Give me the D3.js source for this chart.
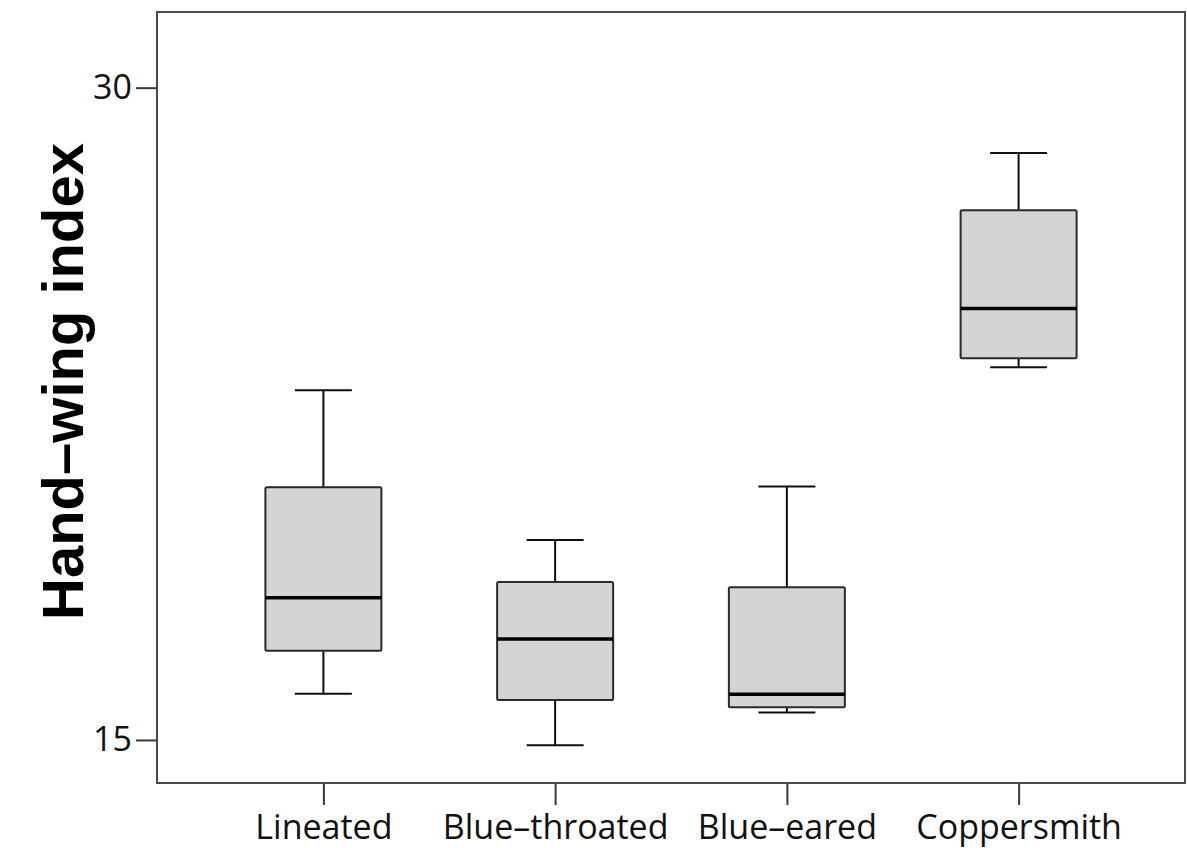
<!DOCTYPE html>
<html>
<head>
<meta charset="utf-8">
<script src="https://cdn.jsdelivr.net/npm/d3@7"></script>
<style>
  html, body { margin: 0; padding: 0; background: #fff; }
  svg { display: block; }
</style>
</head>
<body>
<svg id="chart" width="1187" height="848"></svg>
<script>
// Hand-wing index per species: five-number summaries
const species = ["Lineated", "Blue\u2013throated", "Blue\u2013eared", "Coppersmith"];
const whiskerLow  = [16.06, 14.88, 15.63, 23.57];
const quartile1   = [17.05, 15.92, 15.75, 23.78];
const median      = [18.27, 17.32, 16.05, 24.92];
const quartile3   = [20.81, 18.63, 18.51, 27.18];
const whiskerHigh = [23.04, 19.60, 20.83, 28.50];
const yTicks = [15, 30];
const yTitle = "Hand\u2013wing index";

const rows = species.map((s, i) => ({
  name: s, lo: whiskerLow[i], q1: quartile1[i], med: median[i],
  q3: quartile3[i], hi: whiskerHigh[i]
}));

const svg = d3.select("#chart");
const plot = { left: 157, right: 1185, top: 12, bottom: 783 };

const y = d3.scaleLinear().domain([14.01, 31.74]).range([plot.bottom, plot.top]);
const x = d3.scalePoint().domain(species).range([plot.left, plot.right]).padding(0.718);

const boxW = 116, capW = 57;
const tickColor = "#3a3a3a";
const font = "'Open Sans', sans-serif";

// Plot frame
svg.append("rect")
  .attr("x", plot.left).attr("y", plot.top)
  .attr("width", plot.right - plot.left).attr("height", plot.bottom - plot.top)
  .attr("fill", "none").attr("stroke", "#4a4a4a").attr("stroke-width", 2);

// Y axis
const yAxis = svg.append("g")
  .attr("transform", `translate(${plot.left},0)`)
  .call(d3.axisLeft(y).tickValues(yTicks).tickSize(21).tickPadding(4).tickFormat(d3.format("d")));
yAxis.select(".domain").remove();
yAxis.selectAll(".tick line").attr("stroke", tickColor).attr("stroke-width", 2);
yAxis.selectAll(".tick text")
  .attr("fill", "#111").style("font-family", font).style("font-size", "34px");

// X axis
const xAxis = svg.append("g")
  .attr("transform", `translate(0,${plot.bottom})`)
  .call(d3.axisBottom(x).tickSize(22).tickPadding(10));
xAxis.select(".domain").remove();
xAxis.selectAll(".tick line").attr("stroke", tickColor).attr("stroke-width", 2);
xAxis.selectAll(".tick text")
  .attr("fill", "#111").style("font-family", font).style("font-size", "34px");

// Y axis title
svg.append("text")
  .attr("transform", `translate(83,${(140 + 623) / 2}) rotate(-90)`)
  .attr("text-anchor", "middle")
  .style("font-family", "'Liberation Sans', Arial, sans-serif")
  .style("font-weight", "bold")
  .style("font-size", "58px")
  .attr("fill", "#000")
  .text(yTitle);

// Box plots
const g = svg.append("g").selectAll("g").data(rows).join("g")
  .attr("transform", d => `translate(${x(d.name)},0)`);

// whisker stems
g.append("line").attr("x1", 0).attr("x2", 0)
  .attr("y1", d => y(d.q3)).attr("y2", d => y(d.hi))
  .attr("stroke", "#111").attr("stroke-width", 2);
g.append("line").attr("x1", 0).attr("x2", 0)
  .attr("y1", d => y(d.q1)).attr("y2", d => y(d.lo))
  .attr("stroke", "#111").attr("stroke-width", 2);
// whisker caps
g.append("line").attr("x1", -capW / 2).attr("x2", capW / 2)
  .attr("y1", d => y(d.hi)).attr("y2", d => y(d.hi))
  .attr("stroke", "#111").attr("stroke-width", 2);
g.append("line").attr("x1", -capW / 2).attr("x2", capW / 2)
  .attr("y1", d => y(d.lo)).attr("y2", d => y(d.lo))
  .attr("stroke", "#111").attr("stroke-width", 2);
// boxes
g.append("rect")
  .attr("x", -boxW / 2).attr("width", boxW)
  .attr("y", d => y(d.q3)).attr("height", d => y(d.q1) - y(d.q3))
  .attr("rx", 1.5)
  .attr("fill", "#d4d4d4").attr("stroke", "#2a2a2a").attr("stroke-width", 2);
// medians
g.append("line").attr("x1", -boxW / 2).attr("x2", boxW / 2)
  .attr("y1", d => y(d.med)).attr("y2", d => y(d.med))
  .attr("stroke", "#000").attr("stroke-width", 3.5);
</script>
</body>
</html>
